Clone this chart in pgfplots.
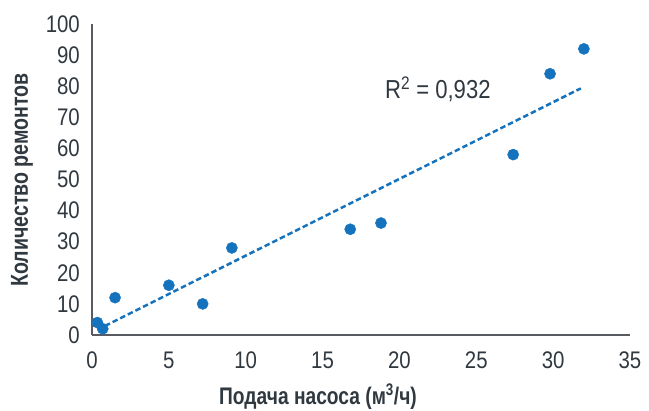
\documentclass[border=0pt]{standalone}
\usepackage{fontspec}
\setmainfont{Liberation Sans}[FakeStretch=0.85]
\newfontfamily\labfont{Liberation Sans}[FakeStretch=0.8]
\usepackage{pgfplots}
\pgfplotsset{compat=1.18}
\definecolor{ptblue}{RGB}{21,114,189}
\definecolor{txt}{RGB}{48,56,64}
\definecolor{axc}{RGB}{88,92,96}
\begin{document}
\begin{tikzpicture}
\begin{axis}[
  scale only axis, width=538pt, height=311pt,
  xmin=0, xmax=35, ymin=0, ymax=100,
  axis x line*=bottom, axis y line*=left,
  axis line style={axc, line width=1.3pt},
  xtick={0,5,...,35}, ytick={0,10,...,100},
  major tick length=0pt,
  /pgf/number format/assume math mode=true,
  tick label style={font=\fontsize{24}{26}\selectfont, color=txt},
  x tick label style={anchor=center, yshift=-25pt},
  y tick label style={anchor=east, inner sep=0pt, xshift=-12pt},
  clip=false,
]
\addplot[ptblue, dashed, line width=2.5pt, dash pattern=on 5.5pt off 3pt] coordinates {(0.35,1.7) (31.8,79.3)};
\addplot[only marks, mark=*, mark size=5.6pt, ptblue, mark options={draw=ptblue, fill=ptblue}] coordinates {
 (0.35,4) (0.7,2) (1.5,12) (5,16) (7.2,10) (9.1,28) (16.8,34) (18.8,36) (27.4,58) (29.8,84) (32,92)};
\node[font=\fontsize{26}{28}\selectfont, color=txt] at (axis cs:22.5,79) {R\textsuperscript{2} = 0,932};
\coordinate (O) at (rel axis cs:0,0);
\end{axis}
\node[rotate=90, font=\labfont\bfseries\fontsize{24.5}{27}\selectfont, color=txt] at ([shift={(-70pt,155pt)}]O) {Количество ремонтов};
\node[font=\labfont\bfseries\fontsize{24}{27}\selectfont, color=txt, inner sep=0pt] at ([shift={(226pt,-62pt)}]O) {Подача насоса (м\textsuperscript{3}/ч)};
\pgfresetboundingbox
\path[use as bounding box] ([shift={(-92pt,-76pt)}]O) rectangle ([shift={(557pt,335pt)}]O);
\end{tikzpicture}
\end{document}
